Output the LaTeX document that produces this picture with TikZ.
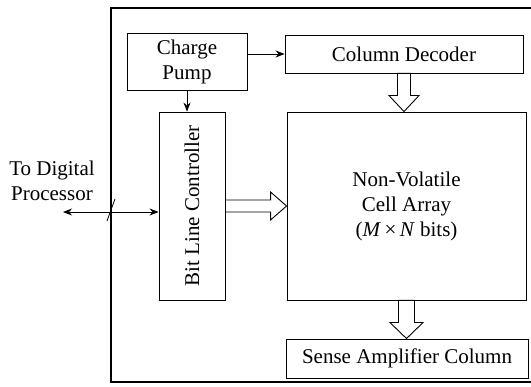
\documentclass[tikz,border=0pt]{standalone}
\usepackage{fontspec}
\setmainfont{Liberation Serif}
\usepackage{graphicx}
\usetikzlibrary{arrows.meta,calc}
\tikzset{
  every node/.style={font=\fontsize{21}{25}\selectfont},
  block/.style={draw, line width=0.9pt, align=center, inner sep=0pt},
  hollow/.style={draw, line width=0.9pt, fill=white, line join=miter},
  thinarrow/.style={line width=0.9pt, -{Stealth[length=9pt,width=7pt]}},
}
% hollow block arrows: from, to, half shaft width
\newcommand{\hollowdown}[3]{%
  \draw[hollow] let \p1=(#1), \p2=(#2) in
    (\x1-#3,\y1) -- (\x1-#3,\y2+16pt) -- (\x1-#3-8.5pt,\y2+16pt) -- (\x1,\y2)
    -- (\x1+#3+8.5pt,\y2+16pt) -- (\x1+#3,\y2+16pt) -- (\x1+#3,\y1) -- cycle;}
\newcommand{\hollowright}[3]{%
  \draw[hollow] let \p1=(#1), \p2=(#2) in
    (\x1,\y1+#3) -- (\x2-16pt,\y1+#3) -- (\x2-16pt,\y1+#3+8pt) -- (\x2,\y1)
    -- (\x2-16pt,\y1-#3-8pt) -- (\x2-16pt,\y1-#3) -- (\x1,\y1-#3) -- cycle;}
\begin{document}
\begin{tikzpicture}[x=1pt, y=-1pt]
\useasboundingbox (0,0) rectangle (531,387);
% outer frame (right side runs off the page)
\draw[line width=1.2pt] (545,8) -- (111,8) -- (111,382) -- (545,382);
\node[block, minimum width=120, minimum height=57] (pump) at (187,61.5) {Charge\\Pump};
\node[block, minimum width=238, minimum height=38] (cdec) at (404,54) {Column Decoder};
\node[block, minimum width=66, minimum height=188] (blc) at (192,206) {\rotatebox{90}{Bit Line Controller}};
\node[block, minimum width=239, minimum height=188] (cell) at (406.5,206)
{Non-Volatile\\Cell Array\\(\textit{M}\,×\,\textit{N} bits)};
\node[block, minimum width=242, minimum height=39] (sense) at (407,358.5) {Sense Amplifier Column};
\node[align=center] (dig) at (52,181) {To Digital\\Processor};
\coordinate (dp) at (63,212);
% connectors
\draw[thinarrow] (pump.east |- cdec.west) -- (cdec.west);
\draw[thinarrow] (pump.south) -- (pump.south |- blc.north);
\draw[line width=0.9pt, {Stealth[length=9pt,width=7pt]}-{Stealth[length=9pt,width=7pt]}] (dp) -- (dp -| blc.west);
\draw[line width=0.8pt] (107,221) -- (115,199);
\hollowright{blc.east}{cell.west}{6pt}
\hollowdown{cdec.south}{cell.north}{6.5pt}
\hollowdown{cell.south}{sense.north}{8pt}
\end{tikzpicture}
\end{document}
